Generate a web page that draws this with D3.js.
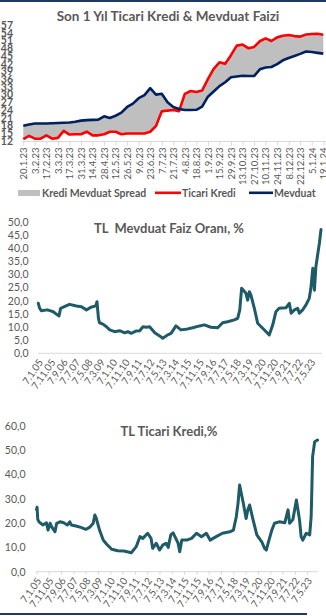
<!DOCTYPE html>
<html>
<head>
<meta charset="utf-8">
<script src="https://cdn.jsdelivr.net/npm/d3@7"></script>
<style>
  html, body { margin: 0; padding: 0; background: #ffffff; }
  svg { display: block; font-family: Lato, "Open Sans", "Noto Sans", sans-serif; }
</style>
</head>
<body>
<script>
// ---- Son 1 yıl: haftalık ticari kredi ve mevduat faizi (%) ----
const weekDates = [
  "20.1.23","27.1.23","3.2.23","10.2.23","17.2.23","24.2.23","3.3.23","10.3.23","17.3.23","24.3.23",
  "31.3.23","7.4.23","14.4.23","21.4.23","28.4.23","5.5.23","12.5.23","19.5.23","26.5.23","2.6.23",
  "9.6.23","16.6.23","23.6.23","30.6.23","7.7.23","14.7.23","21.7.23","28.7.23","4.8.23","11.8.23",
  "18.8.23","25.8.23","1.9.23","8.9.23","15.9.23","22.9.23","29.9.23","6.10.23","13.10.23","20.10.23",
  "27.10.23","3.11.23","10.11.23","17.11.23","24.11.23","1.12.23","8.12.23","15.12.23","22.12.23","29.12.23",
  "5.1.24","12.1.24","19.1.24"
];
const commercialLoan = [
  12.7, 14.0, 12.9, 12.9, 14.2, 12.9, 13.2, 15.9, 14.5, 14.6,
  14.6, 15.6, 14.2, 14.2, 14.6, 15.6, 15.6, 14.6, 14.9, 14.9,
  14.9, 14.9, 15.6, 17.8, 23.5, 23.8, 24.0, 23.6, 30.3, 31.4,
  31.0, 31.6, 36.0, 40.0, 42.5, 42.0, 45.3, 49.0, 49.4, 48.0,
  48.5, 50.7, 51.8, 50.8, 52.2, 52.8, 53.1, 52.7, 52.5, 53.3,
  53.5, 53.6, 53.2
];
const deposit = [
  17.9, 18.4, 18.8, 18.8, 18.8, 18.9, 19.0, 19.1, 19.2, 19.5,
  19.9, 20.1, 20.2, 20.3, 21.6, 20.9, 21.8, 23.0, 25.2, 26.5,
  28.6, 29.8, 32.5, 30.0, 30.3, 27.0, 25.2, 24.4, 24.0, 24.0,
  24.1, 25.3, 29.2, 31.2, 33.3, 34.8, 36.7, 37.0, 37.3, 37.2,
  37.2, 39.8, 40.5, 40.7, 41.8, 43.3, 44.2, 45.0, 45.8, 46.7,
  46.5, 46.2, 45.9
];
const spreadTicks = [12, 15, 18, 21, 24, 27, 30, 33, 36, 39, 42, 45, 48, 51, 54, 57];
const spreadLegend = ["Kredi Mevduat Spread", "Ticari Kredi", "Mevduat"];

// ---- Uzun dönem seriler ----
const longTickDates = [
  "2005-01-07","2005-11-07","2006-09-07","2007-07-07","2008-05-07","2009-03-07","2010-01-07","2010-11-07",
  "2011-09-07","2012-07-07","2013-05-07","2014-03-07","2015-01-07","2015-11-07","2016-09-07","2017-07-07",
  "2018-05-07","2019-03-07","2020-01-07","2020-11-07","2021-09-07","2022-07-07","2023-05-07"
];
const longTickLabels = [
  "7.1.05","7.11.05","7.9.06","7.7.07","7.5.08","7.3.09","7.1.10","7.11.10",
  "7.9.11","7.7.12","7.5.13","7.3.14","7.1.15","7.11.15","7.9.16","7.7.17",
  "7.5.18","7.3.19","7.1.20","7.11.20","7.9.21","7.7.22","7.5.23"
];

const depositDates = [
  "2005-01-07","2005-02-10","2005-03-20","2005-08-15","2005-10-20","2006-01-10","2006-03-25","2006-06-01",
  "2006-07-10","2006-11-20","2007-02-15","2007-08-01","2007-12-05","2008-04-05","2008-07-25","2008-11-20",
  "2008-12-20","2009-01-25","2009-02-20","2009-05-15","2009-08-10","2009-10-30","2010-03-01","2010-07-01",
  "2010-11-01","2011-01-20","2011-04-10","2011-08-15","2011-11-05","2012-01-25","2012-04-15","2012-07-05",
  "2012-11-10","2013-03-10","2013-05-25","2013-09-25","2013-12-15","2014-04-15","2014-08-15","2014-12-15",
  "2015-06-01","2015-11-15","2016-03-15","2016-08-20","2017-02-05","2017-06-05","2017-10-05","2018-03-20",
  "2018-06-10","2018-08-01","2018-09-15","2019-01-01","2019-02-10","2019-03-25","2019-05-01","2019-07-25",
  "2019-10-15","2020-02-15","2020-06-15","2020-07-25","2020-10-20","2021-01-05","2021-03-25","2021-09-10",
  "2021-12-01","2022-01-15","2022-04-05","2022-06-25","2022-08-05","2022-10-25","2023-01-15","2023-04-05",
  "2023-05-15","2023-07-01","2023-08-10","2023-09-15","2023-12-10","2024-01-19"
];
const depositRates = [
  19.0, 17.1, 16.2, 16.5, 16.2, 15.8, 14.9, 14.2,
  17.1, 18.0, 18.6, 18.0, 17.7, 16.5, 17.5, 18.0,
  19.6, 13.3, 11.6, 11.1, 10.1, 8.9, 8.2, 8.6,
  7.8, 8.2, 7.6, 8.5, 8.6, 10.1, 9.9, 10.1,
  7.8, 6.6, 5.7, 7.0, 7.6, 10.4, 8.9, 9.1,
  9.7, 10.4, 10.8, 9.9, 9.7, 11.6, 12.0, 12.7,
  13.3, 16.5, 24.7, 22.8, 20.2, 23.4, 22.2, 17.1,
  11.4, 9.5, 7.6, 7.0, 10.8, 15.8, 17.1, 17.3,
  19.0, 15.2, 16.5, 17.1, 15.2, 16.5, 18.4, 20.9,
  24.7, 32.3, 24.0, 32.9, 41.8, 47.0
];
const depositTicks = [0, 5, 10, 15, 20, 25, 30, 35, 40, 45, 50];

const loanDates = [
  "2005-01-07","2005-01-21","2005-02-07","2005-03-10","2005-06-10","2005-09-10","2005-10-20","2005-12-10",
  "2006-01-15","2006-04-10","2006-05-20","2006-08-10","2006-11-10","2007-02-10","2007-04-10","2007-05-20",
  "2007-09-10","2008-01-10","2008-05-10","2008-08-10","2008-11-10","2008-12-20","2009-01-25","2009-04-15",
  "2009-07-15","2009-10-10","2010-02-10","2010-07-10","2010-12-10","2011-06-10","2011-10-10","2012-01-10",
  "2012-03-20","2012-07-20","2012-10-10","2012-11-20","2013-02-15","2013-05-10","2013-08-01","2013-10-20",
  "2013-12-10","2014-02-10","2014-04-10","2014-08-10","2014-09-20","2014-11-10","2015-03-10","2015-07-10",
  "2015-11-10","2016-03-10","2016-07-10","2016-10-10","2017-03-10","2017-08-10","2018-02-10","2018-05-10",
  "2018-07-20","2018-09-01","2018-10-10","2019-01-10","2019-03-20","2019-05-01","2019-06-15","2019-09-10",
  "2019-12-10","2020-04-10","2020-06-20","2020-08-01","2020-09-15","2020-12-15","2021-02-20","2021-06-15",
  "2021-11-01","2022-01-20","2022-03-01","2022-05-20","2022-08-15","2022-11-01","2022-12-10","2023-01-20",
  "2023-04-15","2023-07-10","2023-08-15","2023-09-01","2023-09-20","2023-11-10","2024-01-19"
];
const loanRates = [
  25.5, 26.5, 21.5, 20.5, 19.2, 20.1, 17.1, 19.9,
  18.5, 16.4, 19.9, 20.5, 20.1, 19.2, 20.5, 19.2,
  18.8, 18.2, 17.4, 18.2, 19.9, 23.3, 21.9, 17.1,
  13.0, 11.3, 9.2, 8.6, 8.5, 7.8, 10.3, 14.4,
  13.7, 15.8, 13.7, 9.6, 11.7, 8.9, 11.0, 11.7,
  10.0, 15.1, 16.0, 11.7, 8.2, 13.0, 13.0, 13.7,
  15.8, 14.4, 15.8, 13.0, 14.4, 15.8, 16.4, 17.1,
  22.6, 28.1, 35.6, 28.1, 21.9, 25.4, 27.4, 21.2,
  15.1, 12.3, 9.6, 8.9, 11.7, 17.1, 19.9, 20.5,
  20.1, 25.4, 19.9, 21.4, 29.5, 21.2, 14.4, 13.0,
  15.8, 15.1, 22.6, 33.6, 47.3, 53.4, 54.1
];
const loanTicks = [0, 10, 20, 30, 40, 50, 60];

// ---- Çizim ----
const W = 326, H = 616;
const TEXT = "#595959", AXIS = "#d9d9d9", TEAL = "#1f5a68";
const svg = d3.select("body").append("svg").attr("width", W).attr("height", H);

// çerçeve çizgileri
svg.append("rect").attr("x", 0).attr("y", 0).attr("width", W).attr("height", 2).attr("fill", "#1f3864");
svg.append("rect").attr("x", 0).attr("y", 613).attr("width", 307).attr("height", 2).attr("fill", "#1f3864");

// ===== Grafik 1 =====
const g1 = svg.append("g");
const x1 = d3.scalePoint().domain(weekDates).range([23.3, 323.3]);
const y1 = d3.scaleLinear().domain([12, 57]).range([141, 25]);

g1.append("text").attr("x", 168).attr("y", 20.5).attr("text-anchor", "middle")
  .attr("font-size", 13.5).attr("font-weight", 700).attr("fill", TEXT)
  .text("Son 1 Yıl Ticari Kredi & Mevduat Faizi");

const yAx1 = g1.append("g").attr("transform", "translate(13,0)")
  .call(d3.axisLeft(y1).tickValues(spreadTicks).tickSize(0).tickPadding(0).tickFormat(d3.format("d")));
yAx1.select(".domain").remove();
yAx1.selectAll("text").attr("font-size", 10.5).attr("font-weight", 700).attr("fill", TEXT)
  .attr("font-family", "Lato, sans-serif");

// x ekseni
g1.append("line").attr("x1", 22).attr("x2", 326).attr("y1", 141.5).attr("y2", 141.5)
  .attr("stroke", AXIS).attr("stroke-width", 1);
const labelDates = weekDates.filter((d, i) => i % 2 === 0);
const xAx1 = g1.append("g").attr("transform", "translate(0,141.5)")
  .call(d3.axisBottom(x1).tickValues(labelDates).tickSize(4).tickSizeOuter(0));
xAx1.select(".domain").remove();
xAx1.selectAll("line").attr("stroke", AXIS);
xAx1.selectAll("text").attr("transform", "rotate(-90)").attr("text-anchor", "end")
  .attr("x", -6).attr("y", 0).attr("dy", "0.35em")
  .attr("font-size", 9.5).attr("fill", TEXT).attr("font-family", "Lato, sans-serif");

// spread alanı
const idx = d3.range(weekDates.length);
g1.append("path").datum(idx)
  .attr("d", d3.area().x(i => x1(weekDates[i])).y0(i => y1(commercialLoan[i])).y1(i => y1(deposit[i])))
  .attr("fill", "#bfbfbf");
g1.append("path").datum(idx)
  .attr("d", d3.line().x(i => x1(weekDates[i])).y(i => y1(commercialLoan[i])))
  .attr("fill", "none").attr("stroke", "#ff0000").attr("stroke-width", 2.6).attr("stroke-linejoin", "round");
g1.append("path").datum(idx)
  .attr("d", d3.line().x(i => x1(weekDates[i])).y(i => y1(deposit[i])))
  .attr("fill", "none").attr("stroke", "#002060").attr("stroke-width", 2.6).attr("stroke-linejoin", "round");

// lejant
const leg = g1.append("g").attr("font-size", 10.5).attr("font-weight", 700).attr("fill", TEXT);
leg.append("rect").attr("x", 18).attr("y", 190).attr("width", 22).attr("height", 6).attr("fill", "#bfbfbf");
leg.append("text").attr("x", 42).attr("y", 196.5).text(spreadLegend[0]);
leg.append("line").attr("x1", 155).attr("x2", 181).attr("y1", 192.8).attr("y2", 192.8)
  .attr("stroke", "#ff0000").attr("stroke-width", 2.6);
leg.append("text").attr("x", 182).attr("y", 196.5).text(spreadLegend[1]);
leg.append("line").attr("x1", 249).attr("x2", 273).attr("y1", 192.8).attr("y2", 192.8)
  .attr("stroke", "#002060").attr("stroke-width", 2.6);
leg.append("text").attr("x", 274).attr("y", 196.5).text(spreadLegend[2]);

// ===== Uzun dönem grafik yardımcı fonksiyonu =====
const parse = d3.timeParse("%Y-%m-%d");
const fmtComma = d => d.toFixed(1).replace(".", ",");

function longChart(opts) {
  const g = svg.append("g");
  const x = d3.scaleTime().domain([parse("2005-01-07"), parse("2024-01-19")]).range(opts.xRange);
  const y = d3.scaleLinear().domain(opts.yDomain).range(opts.yRange);

  g.append("text").attr("x", 169).attr("y", opts.titleY).attr("text-anchor", "middle")
    .attr("font-size", 13).attr("font-weight", 700).attr("fill", TEXT)
    .style("white-space", "pre").text(opts.title);

  const ya = g.append("g").attr("transform", `translate(${opts.yLabelX},0)`)
    .call(d3.axisLeft(y).tickValues(opts.ticks).tickSize(0).tickPadding(0).tickFormat(fmtComma));
  ya.select(".domain").remove();
  ya.selectAll("text").attr("font-size", 10.5).attr("fill", TEXT).attr("font-family", "Lato, sans-serif");

  const axisY = y(0);
  g.append("line").attr("x1", opts.axisX[0]).attr("x2", opts.axisX[1]).attr("y1", axisY).attr("y2", axisY)
    .attr("stroke", AXIS).attr("stroke-width", 1);

  const tickDates = longTickDates.map(parse);
  const xa = g.append("g").attr("transform", `translate(0,${axisY})`)
    .call(d3.axisBottom(x).tickValues(tickDates).tickSize(opts.tickLen).tickSizeOuter(0)
      .tickFormat((d, i) => longTickLabels[i]));
  xa.select(".domain").remove();
  xa.selectAll("line").attr("stroke", AXIS);
  xa.selectAll("text").attr("transform", "translate(2,7) rotate(-55)").attr("text-anchor", "end")
    .attr("x", 0).attr("y", 0).attr("dy", "0.35em")
    .attr("font-size", 10).attr("fill", TEXT).attr("font-family", "Lato, sans-serif");

  const pts = opts.dates.map((d, i) => [parse(d), opts.values[i]]);
  g.append("path").datum(pts)
    .attr("d", d3.line().x(p => x(p[0])).y(p => y(p[1])))
    .attr("fill", "none").attr("stroke", TEAL).attr("stroke-width", 3)
    .attr("stroke-linejoin", "round").attr("stroke-linecap", "round");
}

// ===== Grafik 2 =====
longChart({
  title: "TL  Mevduat Faiz Oranı, %",
  titleY: 232.5,
  xRange: [38.3, 321],
  yDomain: [0, 50], yRange: [353.3, 221.7],
  yLabelX: 28.5, ticks: depositTicks,
  axisX: [38, 322], tickLen: 0,
  dates: depositDates, values: depositRates
});

// ===== Grafik 3 =====
longChart({
  title: "TL Ticari Kredi,%",
  titleY: 436,
  xRange: [36.5, 317.5],
  yDomain: [0, 60], yRange: [571.7, 425.7],
  yLabelX: 25.5, ticks: loanTicks,
  axisX: [36, 318], tickLen: 3,
  dates: loanDates, values: loanRates
});
</script>
</body>
</html>
